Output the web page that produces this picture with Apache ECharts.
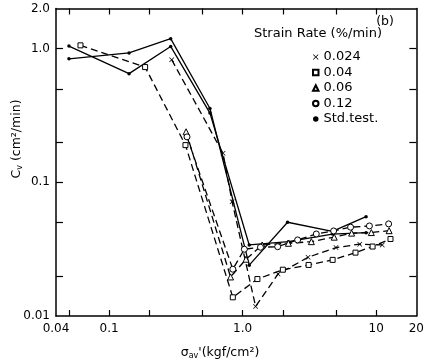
<!DOCTYPE html>
<html><head><meta charset="utf-8">
<script src="https://cdn.jsdelivr.net/npm/echarts@6/dist/echarts.min.js"></script>
<style>html,body{margin:0;padding:0;background:#fff}#c{width:427px;height:363px}</style>
</head><body><div id="c"></div>
<script>
// ---- axis ticks / labels ----
const xTickValues = [0.05, 0.1, 0.2, 0.5, 1, 2, 5, 10];
const xLabelValues = [0.04, 0.1, 1, 10, 20];
const xLabelTexts = ['0.04', '0.1', '1.0', '10', '20'];
const yTickValues = [0.02, 0.05, 0.1, 0.2, 0.5, 1];
const yLabelValues = [0.01, 0.1, 1, 2];
const yLabelTexts = ['0.01', '0.1', '1.0', '2.0'];

// ---- series: strain rate 0.024 %/min (x) ----
const r024X = [0.294, 0.713, 0.834, 1.25, 1.84, 3.09, 5.0, 7.53, 11.1];
const r024Y = [0.828, 0.165, 0.0716, 0.0118, 0.0206, 0.0275, 0.0325, 0.0345, 0.034];
// ---- 0.04 %/min (square) ----
const r04X = [0.061, 0.186, 0.373, 0.844, 1.29, 2.0, 3.12, 4.72, 7.0, 9.4, 12.8];
const r04Y = [1.06, 0.729, 0.190, 0.0138, 0.0189, 0.0222, 0.0241, 0.0263, 0.0298, 0.0331, 0.0377];
// ---- 0.06 %/min (triangle) ----
const r06X = [0.377, 0.812, 1.06, 1.4, 2.2, 3.27, 4.85, 6.55, 9.2, 12.5];
const r06Y = [0.239, 0.0196, 0.0266, 0.034, 0.035, 0.036, 0.0389, 0.0417, 0.0421, 0.0435];
// ---- 0.12 %/min (circle) ----
const r12X = [0.383, 0.844, 1.03, 1.36, 1.83, 2.58, 3.56, 4.8, 6.43, 8.9, 12.4];
const r12Y = [0.219, 0.0224, 0.0316, 0.0327, 0.033, 0.0371, 0.0411, 0.0433, 0.0462, 0.0472, 0.0489];
// ---- standard tests (solid) ----
const stdAX = [0.05, 0.141, 0.289, 0.569, 1.12, 2.17, 4.7, 8.4];
const stdAY = [0.84, 0.93, 1.19, 0.357, 0.024, 0.0503, 0.043, 0.0554];
const stdBX = [0.05, 0.141, 0.289, 0.569, 1.12, 2.2, 4.7, 8.4];
const stdBY = [1.046, 0.651, 1.04, 0.33, 0.034, 0.036, 0.041, 0.042];

const FONT = 'DejaVu Sans';
const BLACK = '#000';
const CROSS = 'path://M0,1L1,0L5,4L9,0L10,1L6,5L10,9L9,10L5,6L1,10L0,9L4,5Z';

function pairs(xs, ys) { return xs.map((x, i) => [x, ys[i]]); }
function lab(vals, texts) {
  return v => {
    const i = vals.findIndex(u => Math.abs(Math.log10(u) - Math.log10(v)) < 1e-6);
    return i >= 0 ? texts[i] : '';
  };
}

function xAx(pos, showLabel) {
  return {
    type: 'log', logBase: 10, min: 0.04, max: 20, position: pos,
    axisLine: { show: true, onZero: false, lineStyle: { color: BLACK, width: 1.5 } },
    axisTick: { show: true, inside: true, length: 6, customValues: xTickValues, lineStyle: { color: BLACK, width: 1.2 } },
    minorTick: { show: false }, splitLine: { show: false },
    axisLabel: { show: showLabel, customValues: xLabelValues, formatter: lab(xLabelValues, xLabelTexts),
      color: BLACK, fontSize: 12, fontFamily: FONT, margin: 7 }
  };
}
function yAx(pos, showLabel) {
  return {
    type: 'log', logBase: 10, min: 0.01, max: 2, position: pos,
    axisLine: { show: true, onZero: false, lineStyle: { color: BLACK, width: 1.5 } },
    axisTick: { show: true, inside: true, length: 7, customValues: yTickValues, lineStyle: { color: BLACK, width: 1.2 } },
    minorTick: { show: false }, splitLine: { show: false },
    axisLabel: { show: showLabel, customValues: yLabelValues, formatter: lab(yLabelValues, yLabelTexts),
      color: BLACK, fontSize: 12, fontFamily: FONT, margin: 6 }
  };
}

function ser(name, xs, ys, symbol, size, fill, dashed) {
  return {
    name, type: 'line', data: pairs(xs, ys), symbol, symbolSize: size, showSymbol: true,
    lineStyle: { color: BLACK, width: 1.3, type: dashed ? [7, 4] : 'solid' },
    itemStyle: { color: fill, borderColor: BLACK, borderWidth: fill === BLACK ? 0 : 1 },
    emphasis: { disabled: true }, animation: false, z: 3
  };
}

const chart = echarts.init(document.getElementById('c'), null, { renderer: 'canvas' });
chart.setOption({
  backgroundColor: '#fff',
  animation: false,
  grid: { left: 56, right: 9, top: 8.5, bottom: 47, containLabel: false },
  xAxis: [xAx('bottom', true), xAx('top', false)],
  yAxis: [yAx('left', true), yAx('right', false)],
  legend: {
    orient: 'vertical', left: 312, top: 50.5, padding: 0,
    itemWidth: 5.5, itemHeight: 5.5, itemGap: 2.5,
    textStyle: { fontSize: 13, lineHeight: 12, fontFamily: FONT, color: BLACK },
    selectedMode: false,
    data: [
      { name: '0.024', icon: CROSS },
      { name: '0.04', icon: 'rect' },
      { name: '0.06', icon: 'triangle' },
      { name: '0.12', icon: 'circle' },
      { name: 'Std.test.', icon: 'circle', itemStyle: { color: BLACK } }
    ]
  },
  graphic: [
    { type: 'text', x: 385, y: 22, style: { text: '(b)', font: '12.5px "DejaVu Sans"', fill: BLACK, textAlign: 'center', textVerticalAlign: 'middle' } },
    { type: 'text', x: 318, y: 34, style: { text: 'Strain Rate (%/min)', font: '13px "DejaVu Sans"', fill: BLACK, textAlign: 'center', textVerticalAlign: 'middle' } },
    { type: 'text', x: 220, y: 353, style: {
        text: '{a|σ}{b|av}{a|\'(kgf/cm²)}', textAlign: 'center', textVerticalAlign: 'middle', fill: BLACK,
        rich: { a: { fontSize: 12.5, fontFamily: FONT, fill: BLACK, verticalAlign: 'middle' },
                b: { fontSize: 8, fontFamily: FONT, fill: BLACK, verticalAlign: 'bottom', padding: [6, 0, 0, 0] } } } },
    { type: 'text', x: 17, y: 139, rotation: Math.PI / 2, style: {
        text: '{a|C}{b|v}{a| (cm²/min)}', textAlign: 'center', textVerticalAlign: 'middle', fill: BLACK,
        rich: { a: { fontSize: 12.5, fontFamily: FONT, fill: BLACK, verticalAlign: 'middle' },
                b: { fontSize: 8, fontFamily: FONT, fill: BLACK, verticalAlign: 'bottom', padding: [6, 0, 0, 0] } } } }
  ],
  series: [
    ser('Std.test.', stdAX, stdAY, 'circle', 3.5, BLACK, false),
    ser('Std.test.', stdBX, stdBY, 'circle', 3.5, BLACK, false),
    ser('0.024', r024X, r024Y, CROSS, 5, BLACK, true),
    ser('0.04', r04X, r04Y, 'rect', 5, '#fff', true),
    ser('0.06', r06X, r06Y, 'triangle', 6, '#fff', true),
    ser('0.12', r12X, r12Y, 'circle', 6, '#fff', true)
  ]
});
</script></body></html>
